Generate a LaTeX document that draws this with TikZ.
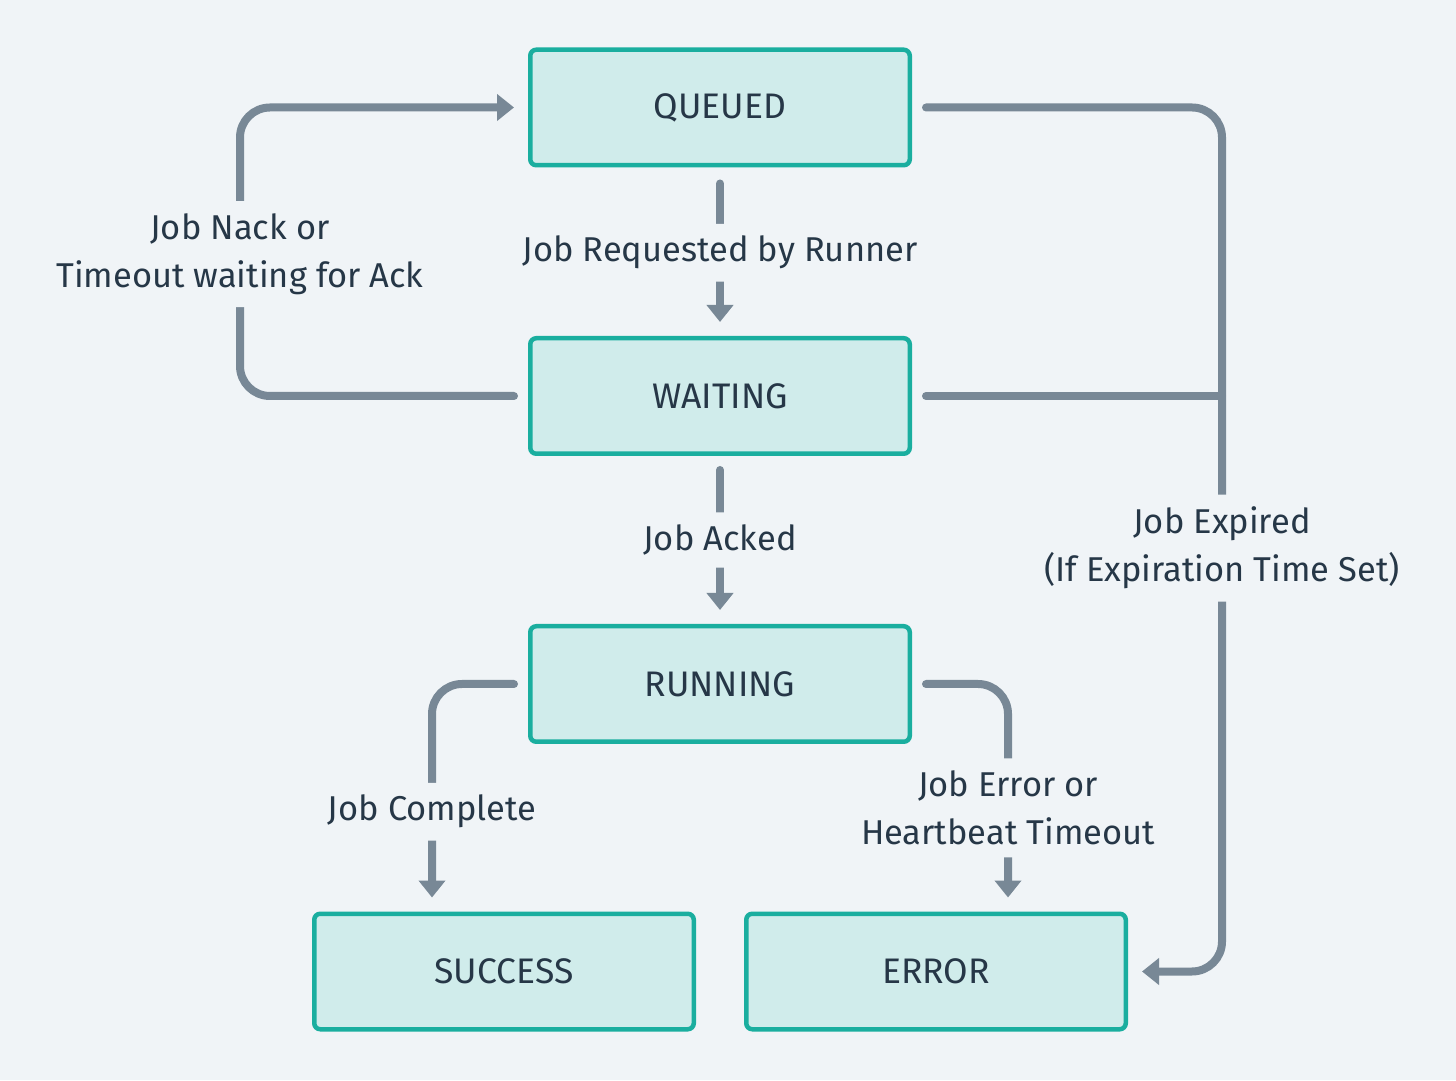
\documentclass[tikz,border=0pt]{standalone}
\usepackage{fontspec}
\setmainfont{Fira Sans}
\usepackage{xcolor}
\usetikzlibrary{arrows.meta}

\definecolor{bgcol}{HTML}{F0F4F7}
\definecolor{boxfill}{HTML}{D0ECEB}
\definecolor{boxline}{HTML}{1AAE9F}
\definecolor{wirecol}{HTML}{788896}
\definecolor{ink}{HTML}{263747}

\newcommand{\statefont}{\fontsize{10.1}{13.7}\selectfont}
\newcommand{\txtfont}{\fontsize{9.8}{13.7}\selectfont}

\begin{document}
\begin{tikzpicture}[
    state/.style = {draw = boxline, fill = boxfill, line width = 0.045cm,
      rounded corners = 0.06cm, minimum width = 3.795cm, minimum height = 1.155cm,
      inner sep = 0pt, text = ink, font = \statefont},
    wire/.style = {draw = wirecol, line width = 0.08cm, line cap = round,
      rounded corners = 0.3cm},
    flow/.style = {wire, -{Triangle[width = 0.26cm, length = 0.17cm]}},
    lbl/.style = {fill = bgcol, text = ink, align = center, inner xsep = 2pt,
      inner ysep = 3.5pt, font = \txtfont}
  ]

    \fill[bgcol] (0,0) rectangle (14.56,10.80);

    % States
    \node[state] (q) at (7.20,9.725) {QUEUED};
    \node[state] (w) at (7.20,6.84) {WAITING};
    \node[state] (r) at (7.20,3.96) {RUNNING};
    \node[state] (s) at (5.04,1.085) {SUCCESS};
    \node[state] (e) at (9.36,1.085) {ERROR};

    \coordinate (nackcol) at (2.40,9.725);
    \coordinate (expcol) at (12.22,1.085);

    % Main line
    \draw[flow] ([yshift = -.16cm]q.south) -- node[lbl] {Job Requested by Runner}
      ([yshift = .14cm]w.north);
    \draw[flow] ([yshift = -.14cm]w.south) -- node[lbl] {Job Acked}
      ([yshift = .14cm]r.north);

    % Back to the queue
    \draw[flow] ([xshift = -.14cm]w.west) -| node[lbl, pos = .746]
      {Job Nack or\\Timeout waiting for Ack} (nackcol) -- ([xshift = -.14cm]q.west);

    % Expiry
    \draw[wire] ([xshift = .14cm]w.east) -- (w.east -| expcol);
    \draw[flow] ([xshift = .14cm]q.east) -| node[lbl, pos = .755]
      {Job Expired\\(If Expiration Time Set)} (expcol) -- ([xshift = .14cm]e.east);

    % End states
    \draw[flow] ([xshift = -.14cm]r.west) -| node[lbl, pos = .799] {Job Complete}
      ([xshift = -.72cm, yshift = .14cm]s.north);
    \draw[flow] ([xshift = .14cm]r.east) -| node[lbl, pos = .79]
      {Job Error or\\Heartbeat Timeout} ([xshift = .72cm, yshift = .14cm]e.north);

\end{tikzpicture}
\end{document}
